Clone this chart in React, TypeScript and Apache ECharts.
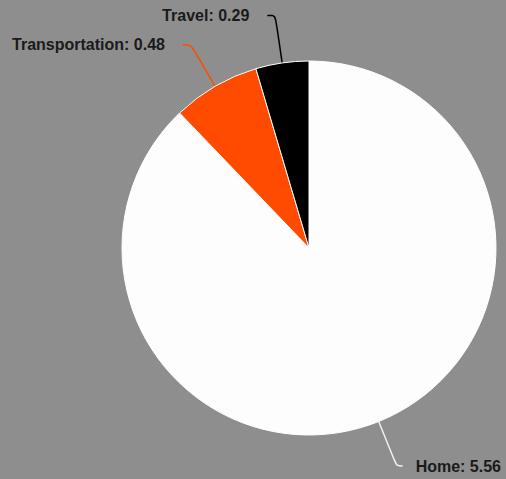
import React, { useEffect, useRef } from "react";
import * as echarts from "echarts";

const categories = ["Home", "Transportation", "Travel"];
const values = [5.56, 0.48, 0.29];
const colors = ["#fdfdfd", "#ff4b00", "#000000"];

export default function App() {
  const ref = useRef<HTMLDivElement>(null);
  useEffect(() => {
    document.body.style.margin = "0";
    const chart = echarts.init(ref.current!, undefined, { renderer: "svg" });
    chart.setOption({
      animation: false,
      backgroundColor: "#8e8e8e",
      series: [
        {
          type: "pie",
          center: [309, 248],
          radius: 187,
          startAngle: 90,
          clockwise: true,
          avoidLabelOverlap: false,
          itemStyle: { borderColor: "#ffffff", borderWidth: 1 },
          label: {
            show: true,
            position: "outside",
            formatter: (p: any) => `${p.name}: ${p.value.toFixed(2)}`,
            color: "#1a1a1a",
            fontFamily: "Liberation Sans, Arial, sans-serif",
            fontWeight: "bold",
            fontSize: 16,
            distanceToLabelLine: 18,
            width: 200,
            overflow: "none",
          },
          labelLine: {
            show: true,
            length: 48,
            length2: 8,
            smooth: true,
            lineStyle: { width: 1.5 },
          },
          data: categories.map((c, i) => ({
            name: c,
            value: values[i],
            itemStyle: { color: colors[i] },
            label: i === 0 ? { distanceToLabelLine: 13 } : undefined,
            labelLine: {
              length2: i === 0 ? 6 : 8,
              lineStyle: { color: i === 0 ? "#f0f0f0" : colors[i] },
            },
          })),
        },
      ],
    });
    return () => chart.dispose();
  }, []);
  return <div ref={ref} style={{ width: 506, height: 479 }} />;
}
